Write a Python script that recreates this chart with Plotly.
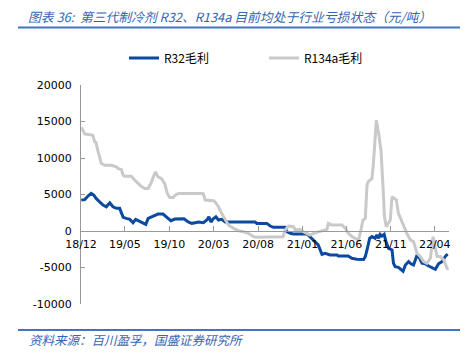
import plotly.graph_objects as go

# R134a gross profit (yuan/ton)
r134a_dates = ["2018-12-02", "2018-12-14", "2019-01-01", "2019-01-11", "2019-01-17", "2019-01-22",
               "2019-01-26", "2019-01-31", "2019-02-09", "2019-02-21", "2019-03-15", "2019-04-02",
               "2019-04-07", "2019-04-19", "2019-04-25", "2019-04-30", "2019-05-23", "2019-06-04",
               "2019-06-15", "2019-06-27", "2019-07-08", "2019-07-20", "2019-07-29", "2019-08-06",
               "2019-08-14", "2019-08-23", "2019-09-03", "2019-09-15", "2019-09-24", "2019-10-02",
               "2019-10-14", "2019-10-21", "2019-11-01", "2020-01-21", "2020-01-26", "2020-02-01",
               "2020-02-29", "2020-03-06", "2020-03-18", "2020-03-29", "2020-04-10", "2020-04-21",
               "2020-05-08", "2020-05-26", "2020-06-12", "2020-06-29", "2020-07-16", "2020-07-28",
               "2020-10-26", "2020-11-02", "2020-11-14", "2020-12-01", "2020-12-07", "2020-12-24",
               "2021-01-04", "2021-01-16", "2021-01-27", "2021-02-08", "2021-02-25", "2021-03-14",
               "2021-03-26", "2021-03-31", "2021-04-12", "2021-05-17", "2021-05-28", "2021-06-08",
               "2021-06-20", "2021-07-01", "2021-07-13", "2021-07-21", "2021-07-28", "2021-08-05",
               "2021-08-11", "2021-08-15", "2021-08-28", "2021-09-02", "2021-09-12", "2021-09-20",
               "2021-09-28", "2021-10-05", "2021-10-10", "2021-10-16", "2021-10-24", "2021-10-30",
               "2021-11-05", "2021-11-13", "2021-11-20", "2021-11-27", "2021-12-06", "2021-12-15",
               "2021-12-26", "2022-01-07", "2022-01-18", "2022-01-30", "2022-02-10", "2022-02-22",
               "2022-03-05", "2022-03-17", "2022-03-26", "2022-04-02", "2022-04-09", "2022-04-20",
               "2022-05-02", "2022-05-11", "2022-05-16"]
r134a_vals = [14200, 13300, 13200, 13100, 12200, 12100,
              11300, 10600, 9250, 9000, 9000, 8800,
              8560, 8400, 7650, 7500, 7500, 6970,
              6510, 6100, 5830, 5830, 6500, 7420,
              8100, 7420, 7200, 6500, 5150, 4600,
              4600, 4920, 5150, 5150, 5100, 4230,
              4150, 4000, 3320, 2410, 1500, 820,
              370, 40, -100, -320, -770, -850,
              -800, 140, 680, 590, 140, 230,
              -100, -320, -550, -320, -100, 40,
              230, 1050, 820, 820, 370, -320,
              -770, -1000, -1230, 140, 1500, 1730,
              6280, 6740, 7200, 9250, 15160, 13340,
              11060, 6050, 1950, 590, 1050, 1500,
              4690, 4460, 4230, 2410, 1500, 590,
              -320, -1230, -1460, -3050, -3500, -4190,
              -4420, -3740, -780, -2140, -3500, -3500,
              -3960, -4880, -5330]

# R32 gross profit (yuan/ton)
r32_dates = ["2018-12-02", "2018-12-14", "2018-12-25", "2019-01-05", "2019-01-14", "2019-01-22",
             "2019-02-03", "2019-02-15", "2019-02-26", "2019-03-10", "2019-03-21", "2019-04-02",
             "2019-04-13", "2019-04-25", "2019-05-06", "2019-05-18", "2019-05-29", "2019-06-07",
             "2019-06-19", "2019-07-02", "2019-07-12", "2019-07-20", "2019-07-31", "2019-08-12",
             "2019-08-23", "2019-09-09", "2019-09-21", "2019-10-06", "2019-10-20", "2019-11-20",
             "2019-12-05", "2019-12-17", "2019-12-29", "2020-01-09", "2020-01-26", "2020-02-07",
             "2020-02-14", "2020-02-21", "2020-02-29", "2020-03-09", "2020-03-18", "2020-03-29",
             "2020-04-10", "2020-07-22", "2020-07-28", "2020-08-31", "2020-09-12", "2020-09-23",
             "2020-11-02", "2020-11-08", "2020-11-20", "2020-11-30", "2021-01-17", "2021-01-27",
             "2021-02-14", "2021-02-24", "2021-03-09", "2021-03-20", "2021-04-06", "2021-04-30",
             "2021-05-04", "2021-06-07", "2021-06-20", "2021-07-07", "2021-07-30", "2021-08-05",
             "2021-08-11", "2021-08-20", "2021-08-28", "2021-09-08", "2021-09-14", "2021-09-20",
             "2021-09-25", "2021-10-01", "2021-10-09", "2021-10-15", "2021-10-24", "2021-11-05",
             "2021-11-10", "2021-11-16", "2021-11-27", "2021-12-06", "2021-12-13", "2021-12-21",
             "2022-01-01", "2022-01-09", "2022-01-18", "2022-01-30", "2022-02-08", "2022-02-16",
             "2022-02-27", "2022-03-11", "2022-03-22", "2022-04-03", "2022-04-14", "2022-04-26",
             "2022-05-07", "2022-05-15"]
r32_vals = [4230, 4300, 4780, 5150, 4920, 4460,
            4000, 3550, 3320, 3870, 3320, 3100,
            3100, 1870, 1730, 1590, 1140, 1590,
            1360, 1040, 910, 1730, 1950, 2190,
            2320, 2320, 1870, 1410, 1640, 1680,
            1230, 1050, 1140, 1230, 1140, 1500,
            1950, 1230, 1680, 1950, 1500, 1590,
            1230, 1230, 1040, 1040, 680, 500,
            500, -100, -320, -400, -400, -770,
            -1460, -1900, -3190, -3050, -3280, -3300,
            -3420, -3420, -3740, -3870, -3900, -3500,
            -2600, -1000, -770, -1000, -550, -1000,
            -460, -700, -460, -1460, -2370, -2600,
            -4420, -4880, -4970, -5250, -5510, -4650,
            -4190, -4500, -4650, -3280, -3740, -4420,
            -4500, -4800, -4970, -5250, -4500, -4190,
            -3500, -3140]

tick_dates = ["2018-12-01", "2019-05-01", "2019-10-01", "2020-03-01", "2020-08-01",
              "2021-01-01", "2021-06-01", "2021-11-01", "2022-04-01"]
tick_labels = ["18/12", "19/05", "19/10", "20/03", "20/08", "21/01", "21/06", "21/11", "22/04"]
y_ticks = [-10000, -5000, 0, 5000, 10000, 15000, 20000]
y_labels = ["-10000", "-5000", "0", "5000", "10000", "15000", "20000"]

title_text = "图表 36:  第三代制冷剂 R32、R134a 目前均处于行业亏损状态（元/吨）"
source_text = "资料来源：百川盈孚，国盛证券研究所"

BLUE_TXT = "#3764B0"
LINE_BLUE = "#4472C4"
AX = "#999999"

OFF = 8                      # page body margin of the html page
W, H = 470 - OFF, 364 - OFF  # figure size so page fits the window
PT, PB, PL, PR = 85 - OFF, 304 - OFF, 81 - OFF, 449 - OFF   # plot-area edges in figure px
PH, PW = PB - PT, PR - PL

def py(pix):   # window pixel -> paper y
    return (PB - (pix - OFF)) / PH

def px(pix):   # window pixel -> paper x
    return ((pix - OFF) - PL) / PW

fig = go.Figure()
fig.add_trace(go.Scatter(x=r32_dates, y=r32_vals, mode="lines", name="R32毛利",
                         line=dict(color="#0B4A9F", width=3)))
fig.add_trace(go.Scatter(x=r134a_dates, y=r134a_vals, mode="lines", name="R134a毛利",
                         line=dict(color="#C9C9C9", width=3)))

fig.update_layout(
    width=W, height=H, autosize=False,
    margin=dict(l=PL, r=W - PR, t=PT, b=H - PB, autoexpand=False),
    paper_bgcolor="white", plot_bgcolor="white",
    font=dict(family="DejaVu Sans", size=11, color="#000"),
    showlegend=True,
    legend=dict(orientation="h", x=px(124), xanchor="left", y=py(58), yanchor="middle",
                font=dict(family="Noto Sans CJK SC", size=12, color="#000"),
                entrywidth=95, entrywidthmode="pixels", bgcolor="rgba(0,0,0,0)"),
    xaxis=dict(type="date", range=["2018-12-01", "2022-05-20"], tickvals=tick_dates,
               ticktext=tick_labels, showgrid=False, zeroline=False, showline=True,
               linecolor=AX, linewidth=1, ticks="inside", ticklen=5, tickcolor=AX,
               anchor="free", position=1 / 3, tickfont=dict(size=11), ticklabelstandoff=3),
    yaxis=dict(range=[-10000, 20000], tickvals=y_ticks, ticktext=y_labels, showgrid=False,
               zeroline=False, showline=True, linecolor=AX, linewidth=1, ticks="inside",
               ticklen=4, tickcolor=AX, tickfont=dict(size=11), ticklabelstandoff=6),
    shapes=[
        dict(type="line", xref="paper", yref="paper", x0=px(18), x1=px(460),
             y0=py(27.5), y1=py(27.5), line=dict(color=LINE_BLUE, width=2)),
        dict(type="line", xref="paper", yref="paper", x0=px(18), x1=px(460),
             y0=py(330), y1=py(330), line=dict(color=LINE_BLUE, width=2)),
    ],
    annotations=[
        dict(text=title_text, xref="paper", yref="paper", x=px(27), xanchor="left",
             y=py(16.5), yanchor="middle", showarrow=False, borderpad=0,
             font=dict(family="Noto Sans CJK SC", size=12.8, color=BLUE_TXT, style="italic")),
        dict(text=source_text, xref="paper", yref="paper", x=px(27), xanchor="left",
             y=py(339), yanchor="middle", showarrow=False,
             font=dict(family="Noto Sans CJK SC", size=12.5, color=BLUE_TXT, style="italic")),
    ],
)

fig.write_html("out.html")
